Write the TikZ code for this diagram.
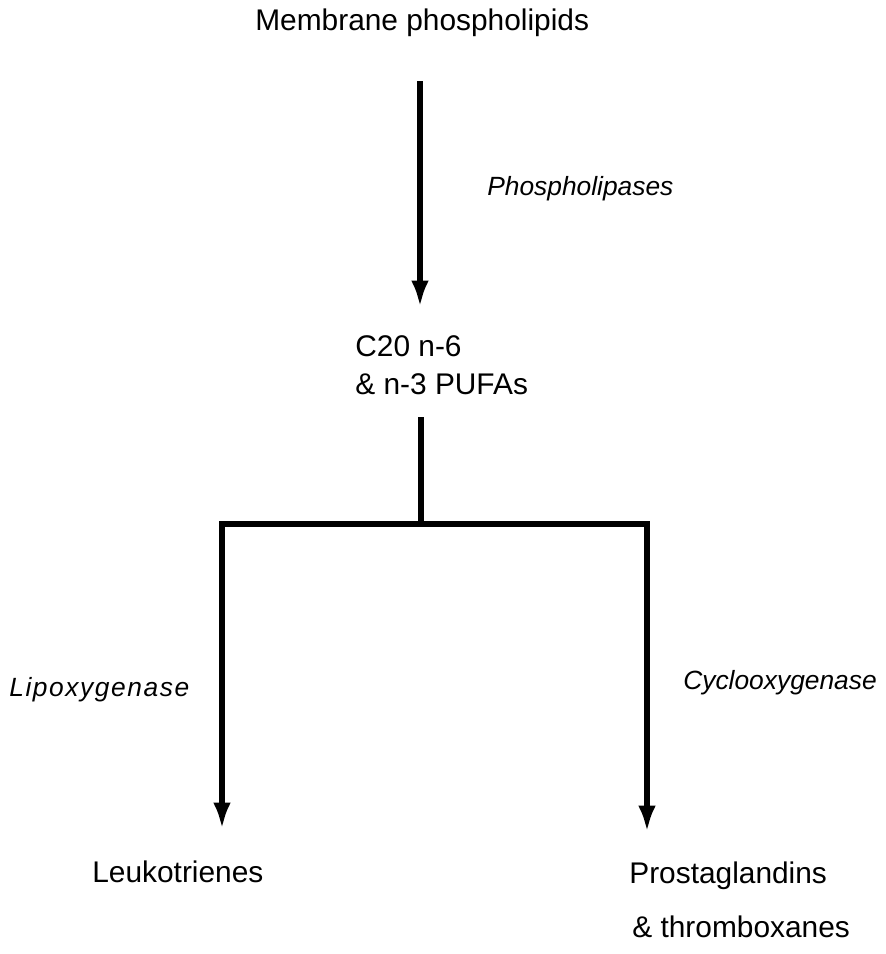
\documentclass[tikz,border=0pt]{standalone}
\usepackage{fontspec}
\setmainfont{Liberation Sans}
\usetikzlibrary{arrows.meta}

\tikzset{
    txt/.style={inner sep=0pt, anchor=base west, font=\fontsize{17}{20}\selectfont},
    enz/.style={inner sep=0pt, anchor=base west, font=\fontsize{15}{18}\selectfont\itshape},
    flow/.style={line width=3pt},
    arr/.style={flow, -{Latex[length=15pt,width=10pt]}}
}

\begin{document}
\begin{tikzpicture}[x=0.02cm, y=-0.02cm]
    % page size in pixels
    \useasboundingbox (0,0) rectangle (886,954);

    % Draw the text
    \node[txt] (mem) at (255,30) {Membrane phospholipids};
    \node[enz] (pla) at (487,195) {Phospholipases};
    \node[txt] (pufa1) at (355,356) {C20 n-6};
    \node[txt] (pufa2) at (355,394) {\& n-3 PUFAs};
    \node[enz, font=\fontsize{15}{18}\selectfont\itshape\addfontfeature{LetterSpace=6}] (lox) at (9,696) {Lipoxygenase};
    \node[enz] (cox) at (683,689) {Cyclooxygenase};
    \node[txt] (lt) at (92,882) {Leukotrienes};
    \node[txt] (pg1) at (629,883) {Prostaglandins};
    \node[txt] (pg2) at (632,937) {\& thromboxanes};

    % Ends of the lines
    \coordinate (top) at (420,81);
    \coordinate (mid) at (420,307);
    \coordinate (stem) at (421,417);
    \coordinate (split) at (421,524);
    \coordinate (left) at (222,524);
    \coordinate (right) at (647,524);
    \coordinate (ltend) at (222,829);
    \coordinate (pgend) at (647,832);

    % Draw the arrows
    \draw[arr] (top) -- (mid);
    \draw[flow] (stem) -- (split);
    \draw[flow, line cap=rect] (left) -- (right);
    \draw[arr] (left) -- (ltend);
    \draw[arr] (right) -- (pgend);
\end{tikzpicture}
\end{document}
